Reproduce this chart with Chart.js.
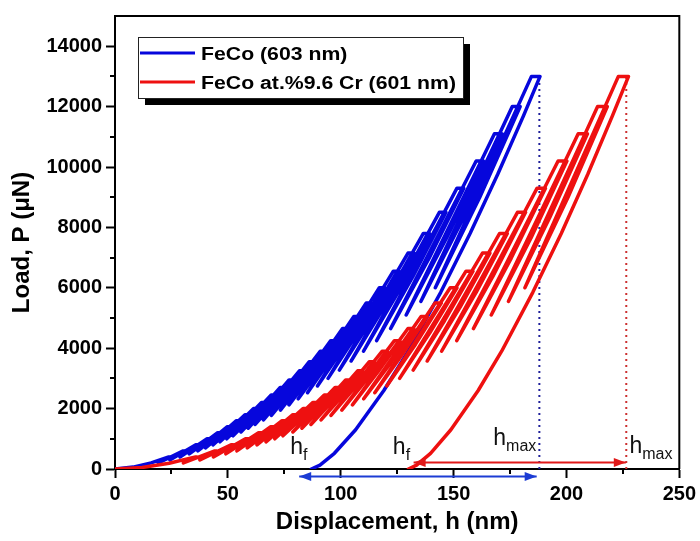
<!DOCTYPE html>
<html>
<head>
<meta charset="utf-8">
<script src="https://cdn.jsdelivr.net/npm/chart.js@4.4.0/dist/chart.umd.min.js"></script>
<style>
  html, body { margin: 0; padding: 0; background: #fff; }
  #wrap { width: 700px; height: 541px; }
</style>
</head>
<body>
<div id="wrap"><canvas id="chart" width="700" height="541"></canvas></div>
<script>
'use strict';

// load-partial unload cycles, displacement h (nm) / load P (uN)
var blueH = [0, 8, 16,
  23.8, 24.3, 21.9, 19.2,   30.2, 30.8, 27.7, 24.3,   35.8, 36.5, 32.9, 28.8,
  40.8, 41.6, 37.5, 32.9,   45.5, 46.4, 41.8, 36.7,   49.8, 50.8, 45.7, 40.1,
  53.8, 54.9, 49.4, 43.4,   57.7, 58.9, 53.0, 46.5,   61.4, 62.6, 56.4, 49.5,
  64.9, 66.2, 59.6, 52.3,   69.2, 70.6, 63.6, 55.8,   73.2, 74.7, 67.2, 59.0,
  77.1, 78.6, 70.8, 62.1,   81.7, 83.3, 75.0, 65.8,   86.0, 87.7, 79.0, 69.3,
  90.9, 92.7, 83.5, 73.3,   95.6, 97.5, 87.8, 77.1,   100.8, 102.8, 92.6, 81.2,
  105.8, 107.9, 97.1, 85.3, 111.3, 113.5, 102.2, 89.7, 117.1, 119.4, 107.5, 94.4,
  123.3, 125.8, 113.3, 99.4, 129.8, 132.4, 119.2, 104.6, 136.6, 139.3, 125.4, 110.1,
  143.7, 146.6, 132.0, 115.9, 151.5, 154.5, 139.1, 122.1, 160.0, 163.2, 146.9, 129.0,
  168.1, 171.5, 154.4, 135.5, 176.0, 179.5, 161.6, 141.9,
  184.5, 188.3,
  181.0, 169.5, 157.3, 144.3, 129.9, 119.1, 106.6, 97.2, 90.8, 87.0];
var blueP = [0, 63, 204,
  400, 400, 300, 200,       600, 600, 450, 300,       800, 800, 600, 400,
  1000, 1000, 750, 500,     1200, 1200, 900, 600,     1400, 1400, 1050, 700,
  1600, 1600, 1200, 800,    1800, 1800, 1350, 900,    2000, 2000, 1500, 1000,
  2200, 2200, 1650, 1100,   2450, 2450, 1840, 1225,   2700, 2700, 2025, 1350,
  2950, 2950, 2210, 1475,   3250, 3250, 2440, 1625,   3550, 3550, 2660, 1775,
  3900, 3900, 2925, 1950,   4250, 4250, 3190, 2125,   4650, 4650, 3490, 2325,
  5050, 5050, 3790, 2525,   5500, 5500, 4125, 2750,   6000, 6000, 4500, 3000,
  6550, 6550, 4910, 3275,   7150, 7150, 5360, 3575,   7800, 7800, 5850, 3900,
  8500, 8500, 6375, 4250,   9300, 9300, 6975, 4650,   10200, 10200, 7650, 5100,
  11100, 11100, 8325, 5550, 12000, 12000, 9000, 6000,
  13000, 13000,
  11700, 9750, 7800, 5850, 3900, 2600, 1300, 520, 130, 0];

var redH = [0, 12, 24,
  35.7, 36.4, 33.5, 30.3,   44.2, 45.1, 41.5, 37.6,   51.4, 52.4, 48.2, 43.6,
  57.8, 59.0, 54.3, 49.1,   63.6, 64.9, 59.7, 54.0,   69.0, 70.4, 64.8, 58.6,
  74.0, 75.5, 69.5, 62.9,   78.8, 80.4, 74.0, 66.9,   83.3, 85.0, 78.2, 70.8,
  87.6, 89.4, 82.3, 74.4,   92.7, 94.6, 87.1, 78.8,   97.5, 99.5, 91.6, 82.8,
  102.2, 104.2, 95.9, 86.8, 107.5, 109.7, 101.0, 91.3, 112.6, 114.9, 105.8, 95.7,
  118.3, 120.7, 111.1, 100.5, 123.8, 126.3, 116.2, 105.2, 129.8, 132.4, 121.9, 110.2,
  135.6, 138.3, 127.3, 115.1, 141.8, 144.6, 133.1, 120.4, 148.5, 151.5, 139.4, 126.1,
  155.5, 158.6, 146.0, 132.1, 162.8, 166.1, 152.9, 138.3, 170.4, 173.8, 160.0, 144.7,
  178.3, 181.9, 167.4, 151.4, 187.0, 190.7, 175.5, 158.8, 196.3, 200.2, 184.3, 166.7,
  205.2, 209.3, 192.6, 174.3, 213.8, 218.1, 200.7, 181.6,
  223.0, 227.5,
  220.4, 209.4, 197.7, 185.1, 171.3, 160.9, 148.8, 139.8, 133.6, 130.0];
var redP = [0, 50, 188,
  400, 400, 300, 200,       600, 600, 450, 300,       800, 800, 600, 400,
  1000, 1000, 750, 500,     1200, 1200, 900, 600,     1400, 1400, 1050, 700,
  1600, 1600, 1200, 800,    1800, 1800, 1350, 900,    2000, 2000, 1500, 1000,
  2200, 2200, 1650, 1100,   2450, 2450, 1840, 1225,   2700, 2700, 2025, 1350,
  2950, 2950, 2210, 1475,   3250, 3250, 2440, 1625,   3550, 3550, 2660, 1775,
  3900, 3900, 2925, 1950,   4250, 4250, 3190, 2125,   4650, 4650, 3490, 2325,
  5050, 5050, 3790, 2525,   5500, 5500, 4125, 2750,   6000, 6000, 4500, 3000,
  6550, 6550, 4910, 3275,   7150, 7150, 5360, 3575,   7800, 7800, 5850, 3900,
  8500, 8500, 6375, 4250,   9300, 9300, 6975, 4650,   10200, 10200, 7650, 5100,
  11100, 11100, 8325, 5550, 12000, 12000, 9000, 6000,
  13000, 13000,
  11700, 9750, 7800, 5850, 3900, 2600, 1300, 520, 130, 0];

var seriesNames = ['FeCo (603 nm)', 'FeCo at.%9.6 Cr (601 nm)'];
var peakLoad = 13000;
var hmaxBlue = 188;
var hmaxRed = 226.5;
// double arrows h_f <-> h_max, values are the arrow tips
var blueArrowH = [81.6, 186.8];
var blueArrowP = [-250, -250];
var redArrowH = [132.3, 226.3];
var redArrowP = [217, 217];

var xTicks = [0, 50, 100, 150, 200, 250];
var xMinor = [25, 75, 125, 175, 225];
var yTicks = [0, 2000, 4000, 6000, 8000, 10000, 12000, 14000];
var yMinor = [1000, 3000, 5000, 7000, 9000, 11000, 13000];

var FONT = "'Liberation Sans', Arial, sans-serif";
var BLUE = '#0606dc';
var RED = '#ee1010';
var BLUE_ARROW = '#1c3cd4';
var RED_ARROW = '#e01818';

function pts(hs, ps) {
  return hs.map(function(h, i) { return { x: h, y: ps[i] }; });
}

var textLabels = [
  { x: 77.6, y: 500, sub: 'f' },
  { x: 123.1, y: 500, sub: 'f' },
  { x: 167.6, y: 780, sub: 'max' },
  { x: 227.9, y: 525, sub: 'max' }
];

function arrowHead(ctx, x, y, dir, color) {
  ctx.fillStyle = color;
  ctx.beginPath();
  ctx.moveTo(x, y);
  ctx.lineTo(x - dir * 12, y - 4.5);
  ctx.lineTo(x - dir * 12, y + 4.5);
  ctx.closePath();
  ctx.fill();
}

var framePlugin = {
  id: 'frame',
  afterDraw: function(chart) {
    var ctx = chart.ctx, a = chart.chartArea;
    var xs = chart.scales.x, ys = chart.scales.y;
    ctx.save();
    ctx.strokeStyle = '#000';
    ctx.lineWidth = 2;
    ctx.beginPath();
    yMinor.forEach(function(v) {
      var py = Math.round(ys.getPixelForValue(v));
      ctx.moveTo(a.left - 5, py); ctx.lineTo(a.left, py);
    });
    xMinor.forEach(function(v) {
      var px = Math.round(xs.getPixelForValue(v));
      ctx.moveTo(px, a.bottom); ctx.lineTo(px, a.bottom + 5);
    });
    ctx.moveTo(a.left, a.top); ctx.lineTo(a.right, a.top); ctx.lineTo(a.right, a.bottom);
    ctx.stroke();

    // arrow heads on the h_f <-> h_max arrows
    [[blueArrowH, blueArrowP, BLUE_ARROW], [redArrowH, redArrowP, RED_ARROW]].forEach(function(ar) {
      var x0 = xs.getPixelForValue(ar[0][0]), x1 = xs.getPixelForValue(ar[0][1]);
      var y0 = ys.getPixelForValue(ar[1][0]), y1 = ys.getPixelForValue(ar[1][1]);
      arrowHead(ctx, x0, y0, -1, ar[2]);
      arrowHead(ctx, x1, y1, 1, ar[2]);
    });

    // h_f / h_max labels
    ctx.fillStyle = '#111';
    ctx.textBaseline = 'alphabetic';
    ctx.textAlign = 'left';
    textLabels.forEach(function(t) {
      var px = xs.getPixelForValue(t.x), py = ys.getPixelForValue(t.y);
      ctx.font = '23px ' + FONT;
      ctx.fillText('h', px, py);
      var w = ctx.measureText('h').width;
      ctx.font = '16px ' + FONT;
      ctx.fillText(t.sub, px + w, py + 6);
    });

    // legend box with drop shadow
    var bx = 138, by = 37, bw = 325, bh = 61;
    ctx.fillStyle = '#000';
    ctx.fillRect(bx + 7, by + 7, bw, bh);
    ctx.fillStyle = '#fff';
    ctx.fillRect(bx, by, bw, bh);
    ctx.lineWidth = 1;
    ctx.strokeStyle = '#222';
    ctx.strokeRect(bx + 0.5, by + 0.5, bw, bh);
    var colors = [BLUE, RED];
    seriesNames.forEach(function(name, i) {
      var ly = by + 16 + i * 29;
      ctx.strokeStyle = colors[i];
      ctx.lineWidth = 3;
      ctx.beginPath(); ctx.moveTo(bx + 2, ly); ctx.lineTo(bx + 57, ly); ctx.stroke();
      ctx.save();
      ctx.translate(bx + 63, ly + 7);
      ctx.scale(1.18, 1);
      ctx.fillStyle = '#000';
      ctx.font = 'bold 18px ' + FONT;
      ctx.fillText(name, 0, 0);
      ctx.restore();
    });
    ctx.restore();
  }
};

new Chart(document.getElementById('chart'), {
  type: 'scatter',
  data: {
    datasets: [
      { label: 'blue arrow', data: pts(blueArrowH, blueArrowP), showLine: true, clip: false,
        borderColor: BLUE_ARROW, borderWidth: 2, pointRadius: 0, order: 0 },
      { label: 'red arrow', data: pts(redArrowH, redArrowP), showLine: true, clip: false,
        borderColor: RED_ARROW, borderWidth: 2, pointRadius: 0, order: 0 },
      { label: seriesNames[1], data: pts(redH, redP), showLine: true, borderColor: RED,
        borderWidth: 3.5, pointRadius: 0, borderJoinStyle: 'round', borderCapStyle: 'round', order: 1 },
      { label: seriesNames[0], data: pts(blueH, blueP), showLine: true, borderColor: BLUE,
        borderWidth: 3.5, pointRadius: 0, borderJoinStyle: 'round', borderCapStyle: 'round', order: 2 },
      { label: 'hmax blue', data: [{ x: hmaxBlue, y: 0 }, { x: hmaxBlue, y: peakLoad }], showLine: true,
        borderColor: '#20209a', borderWidth: 2, borderDash: [2, 4], pointRadius: 0, order: 3 },
      { label: 'hmax red', data: [{ x: hmaxRed, y: 0 }, { x: hmaxRed, y: peakLoad }], showLine: true,
        borderColor: '#cc3030', borderWidth: 2, borderDash: [2, 4], pointRadius: 0, order: 3 }
    ]
  },
  options: {
    responsive: false,
    animation: false,
    devicePixelRatio: 1,
    events: [],
    layout: { padding: { top: 13, right: 18, left: 0, bottom: 0 } },
    plugins: { legend: { display: false }, tooltip: { enabled: false } },
    scales: {
      x: {
        type: 'linear', min: 0, max: 250,
        afterFit: function(s) { s.height = 72; },
        afterBuildTicks: function(s) { s.ticks = xTicks.map(function(v) { return { value: v }; }); },
        border: { display: true, color: '#000', width: 2 },
        grid: { drawOnChartArea: false, tickLength: 9, tickWidth: 2, tickColor: '#000', color: '#000' },
        ticks: { color: '#000', padding: 4, maxRotation: 0, callback: function(v) { return String(v); },
          font: { family: FONT, size: 20, weight: 'bold' } },
        title: { display: true, text: 'Displacement, h (nm)', color: '#000',
          padding: { top: 0, bottom: 4 }, font: { family: FONT, size: 24, weight: 'bold' } }
      },
      y: {
        type: 'linear', min: 0, max: 15000,
        afterFit: function(s) { s.width = 115; },
        afterBuildTicks: function(s) { s.ticks = yTicks.map(function(v) { return { value: v }; }); },
        border: { display: true, color: '#000', width: 2 },
        grid: { drawOnChartArea: false, tickLength: 9, tickWidth: 2, tickColor: '#000', color: '#000' },
        ticks: { color: '#000', padding: 4, callback: function(v) { return String(v); },
          font: { family: FONT, size: 20, weight: 'bold' } },
        title: { display: true, text: 'Load, P (μN)', color: '#000',
          padding: { top: 8, bottom: 0 }, font: { family: FONT, size: 24, weight: 'bold' } }
      }
    }
  },
  plugins: [framePlugin]
});
</script>
</body>
</html>
